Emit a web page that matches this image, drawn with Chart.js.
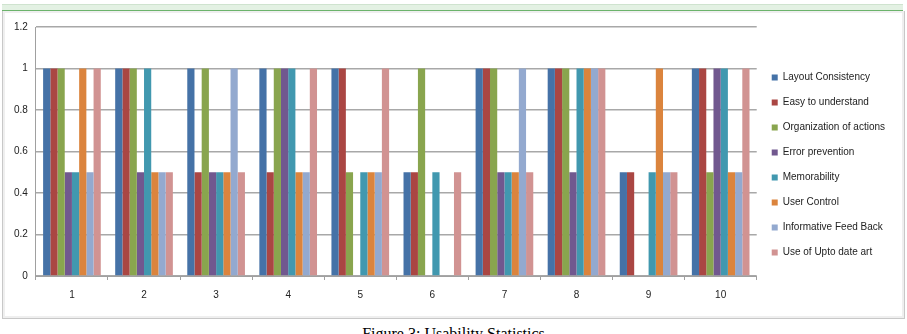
<!DOCTYPE html>
<html>
<head>
<meta charset="utf-8">
<script src="https://cdn.jsdelivr.net/npm/chart.js@4.4.1/dist/chart.umd.min.js"></script>
<style>
  html, body { margin: 0; padding: 0; background: #fff; overflow: hidden; }
  #topbar { position: absolute; left: 2px; top: 4px; width: 901px; height: 5px; background: #e3f1e3; border-top: 1px solid #cfe3cf; border-bottom: 2px solid #6bb36b; }
  #frame { position: absolute; left: 2px; top: 11px; width: 901px; height: 307px; border: 1px solid #c8c8c8; border-top: none; box-shadow: inset 0 0 0 2px #efefef; }
  #wrap { position: absolute; left: 4px; top: 13px; width: 897px; height: 302px; }
  #caption { position: absolute; left: 0; top: 325px; width: 907px; text-align: center; font-family: "Liberation Serif", serif; font-size: 16px; color: #000; }
</style>
</head>
<body>
<div id="topbar"></div>
<div id="frame"></div>
<div id="wrap"><canvas id="usability-chart"></canvas></div>
<div id="caption">Figure 3: Usability Statistics</div>
<script>
var chartLabels = ['1', '2', '3', '4', '5', '6', '7', '8', '9', '10'];
var layoutConsistency = [1, 1, 1, 1, 1, 0.5, 1, 1, 0.5, 1];
var easyToUnderstand = [1, 1, 0.5, 0.5, 1, 0.5, 1, 1, 0.5, 1];
var organizationOfActions = [1, 1, 1, 1, 0.5, 1, 1, 1, 0, 0.5];
var errorPrevention = [0.5, 0.5, 0.5, 1, 0, 0, 0.5, 0.5, 0, 1];
var memorability = [0.5, 1, 0.5, 1, 0.5, 0.5, 0.5, 1, 0.5, 1];
var userControl = [1, 0.5, 0.5, 0.5, 0.5, 0, 0.5, 1, 1, 0.5];
var informativeFeedBack = [0.5, 0.5, 1, 0.5, 0.5, 0, 1, 1, 0.5, 0.5];
var useOfUptoDateArt = [1, 0.5, 0.5, 1, 1, 0.5, 0.5, 1, 0.5, 1];

var ctxUsability = document.getElementById('usability-chart').getContext('2d');

var dataUsability = {
    labels: chartLabels,
    datasets: [{
        label: 'Layout Consistency',
        backgroundColor: '#4572a7',
        data: layoutConsistency
    }, {
        label: 'Easy to understand',
        backgroundColor: '#aa4643',
        data: easyToUnderstand
    }, {
        label: 'Organization of actions',
        backgroundColor: '#89a54e',
        data: organizationOfActions
    }, {
        label: 'Error prevention',
        backgroundColor: '#71588f',
        data: errorPrevention
    }, {
        label: 'Memorability',
        backgroundColor: '#4198af',
        data: memorability
    }, {
        label: 'User Control',
        backgroundColor: '#db843d',
        data: userControl
    }, {
        label: 'Informative Feed Back',
        backgroundColor: '#93a9cf',
        data: informativeFeedBack
    }, {
        label: 'Use of Upto date art',
        backgroundColor: '#d19392',
        data: useOfUptoDateArt
    }]
};

var optionUsability = {
    responsive: true,
    maintainAspectRatio: false,
    animation: false,
    layout: { padding: { left: 2, right: 6, top: 7, bottom: 5 } },
    datasets: { bar: { categoryPercentage: 0.8, barPercentage: 1.0 } },
    plugins: {
        tooltip: { enabled: false },
        legend: {
            display: true,
            position: 'right',
            labels: {
                font: { family: 'Liberation Sans', size: 10 },
                color: '#222',
                boxWidth: 6,
                boxHeight: 6,
                padding: 15
            }
        }
    },
    scales: {
        x: {
            grid: { display: true, offset: true, drawOnChartArea: false, color: '#a0a0a0', tickLength: 4 },
            border: { color: '#a0a0a0' },
            ticks: { font: { family: 'Liberation Sans', size: 10 }, color: '#222', padding: 9 }
        },
        y: {
            min: 0,
            max: 1.2,
            ticks: {
                stepSize: 0.2,
                font: { family: 'Liberation Sans', size: 10 },
                color: '#222',
                padding: 8,
                callback: function (value) { return String(Math.round(value * 10) / 10); }
            },
            grid: { color: '#a8a8a8', lineWidth: 1.5, drawTicks: false },
            border: { color: '#a0a0a0' }
        }
    }
};

new Chart(ctxUsability, { type: 'bar', data: dataUsability, options: optionUsability });
</script>
</body>
</html>
